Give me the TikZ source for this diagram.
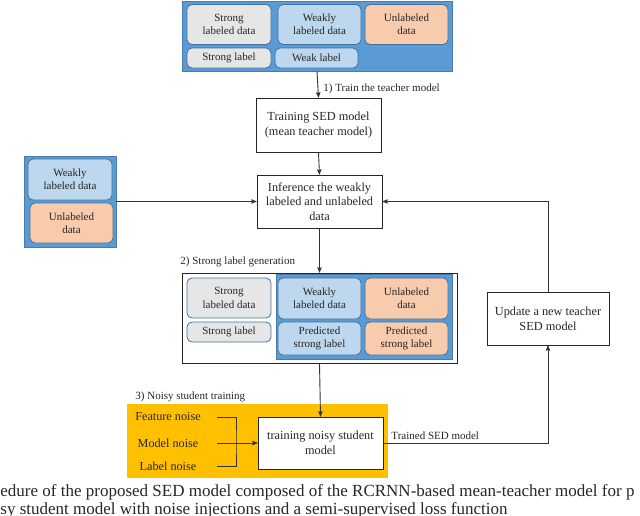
\documentclass[tikz,border=0pt]{standalone}
\usepackage{fontspec}
\setmainfont{Liberation Serif}
\usetikzlibrary{calc, arrows}
\definecolor{panelblue}{HTML}{5B9BD5}
\definecolor{edgeblue}{HTML}{41719C}
\definecolor{lightblue}{HTML}{BDD7EE}
\definecolor{lightorange}{HTML}{F8CBAD}
\definecolor{lightgray}{HTML}{E7E6E6}
\definecolor{noiseyellow}{HTML}{FFC000}
\tikzset{
  wh/.style 2 args={minimum width=#1pt,minimum height=#2pt,inner sep=0pt},
  small/.style={align=center,font=\fontsize{11}{13.4}\selectfont,text=black!85},
  panel/.style={fill=panelblue,draw=panelblue!80!black,line width=0.5pt},
  graybox/.style={small,fill=lightgray,draw=edgeblue,line width=0.8pt,rounded corners=5pt},
  bluebox/.style={small,fill=lightblue,draw=edgeblue,line width=0.8pt,rounded corners=5pt},
  orangebox/.style={small,fill=lightorange,draw=edgeblue,line width=0.8pt,rounded corners=5pt},
  modelbox/.style={align=center,font=\fontsize{12.3}{14.7}\selectfont,text=black!85,fill=white,draw=black!85,line width=1pt},
  steplabel/.style={anchor=west,inner sep=0pt,font=\fontsize{11}{13}\selectfont,text=black!85},
  noise/.style={wh={98}{14},align=center,font=\fontsize{12.2}{13}\selectfont,text=black!85},
  caption/.style={anchor=base west,inner sep=0pt,font=\fontsize{17}{18}\selectfont,text=black!85},
}
\begin{document}
\begin{tikzpicture}[->,>=stealth',x=1pt,y=-1pt,line width=0.9pt,draw=black!80]
\useasboundingbox (0,0) rectangle (640,515);
\clip (0,0) rectangle (640,515);
% top data
\node [panel,wh={270}{70}] (nTop) at (317,36) {};
\node [graybox,wh={84}{40}] (nTopA) at (229,24.5) {Strong\\labeled data};
\node [bluebox,wh={83}{40}] (nTopB) at (319.5,24.5) {Weakly\\labeled data};
\node [orangebox,wh={83}{40}] (nTopC) at (406.5,24.5) {Unlabeled\\data};
\node [graybox,wh={84}{20}] (nTopD) at (229,58) {Strong label};
\node [bluebox,wh={83}{20}] (nTopE) at (316.5,58) {Weak label};
\node [steplabel] (lTrain) at (323,89) {1) Train the teacher model};
\node [modelbox,wh={125}{54}] (nTrain) at (318.5,125) {Training SED model\\(mean teacher model)};
\node [modelbox,wh={125}{53}] (nInf) at (319.5,201.5) {Inference the weakly\\labeled and unlabeled\\data};
% left data
\node [panel,wh={92}{91}] (nLeft) at (70,201.5) {};
\node [bluebox,wh={84}{41}] (nLeftA) at (70,179.5) {Weakly\\labeled data};
\node [orangebox,wh={83}{40}] (nLeftB) at (71.5,223) {Unlabeled\\data};
% strong label generation
\node [steplabel] (lGen) at (180,262) {2) Strong label generation};
\node [wh={275}{90},draw=black!85,line width=1pt] (nGen) at (319.5,318) {};
\node [panel,wh={176}{85}] (nGenP) at (364,316.5) {};
\node [graybox,wh={84}{40}] (nGenA) at (229,298) {Strong\\labeled data};
\node [graybox,wh={84}{20}] (nGenB) at (229,332) {Strong label};
\node [bluebox,wh={83}{41}] (nGenC) at (319.5,298.5) {Weakly\\labeled data};
\node [orangebox,wh={83}{41}] (nGenD) at (406.5,298.5) {Unlabeled\\data};
\node [bluebox,wh={83}{33}] (nGenE) at (319.5,338.5) {Predicted\\strong label};
\node [orangebox,wh={83}{33}] (nGenF) at (406.5,338.5) {Predicted\\strong label};
% noisy student
\node [steplabel] (lNoisy) at (135,397) {3) Noisy student training};
\node [wh={261}{74},fill=noiseyellow] (nNoisy) at (257.5,441) {};
\node [noise] (nFeat) at (168,417) {Feature noise};
\node [noise] (nModel) at (168,443) {Model noise};
\node [noise] (nLab) at (168,466) {Label noise};
\coordinate (cBar) at (236,443);
\node [modelbox,wh={125}{52}] (nStud) at (320.5,443) {training noisy student\\model};
% update
\node [modelbox,wh={122}{53}] (nUpd) at (548,318.5) {Update a new teacher\\SED model};
\node [steplabel] (lSed) at (391,436) {Trained SED model};
% caption
\node [caption] (nCapA) at (0,496) {edure of the proposed SED model composed of the RCRNN-based mean-teacher model for p};
\node [caption] (nCapB) at (0,514) {sy student model with noise injections and a semi-supervised loss function};
% connectors
\draw (nTop.south) -- (nTrain.north);
\draw (nTrain.south) -- (nInf.north);
\draw (nLeft.east) -- (nInf.west);
\draw (nInf.south) -- (nGen.north);
\draw (nGen.south) -- (nStud.north);
\draw (nModel.east) -- (nStud.west);
\draw [-] (nFeat.east) -| (cBar) |- (nLab.east);
\draw (nStud.east) -| (nUpd.south);
\draw (nUpd.north) |- (nInf.east);
\end{tikzpicture}
\end{document}
